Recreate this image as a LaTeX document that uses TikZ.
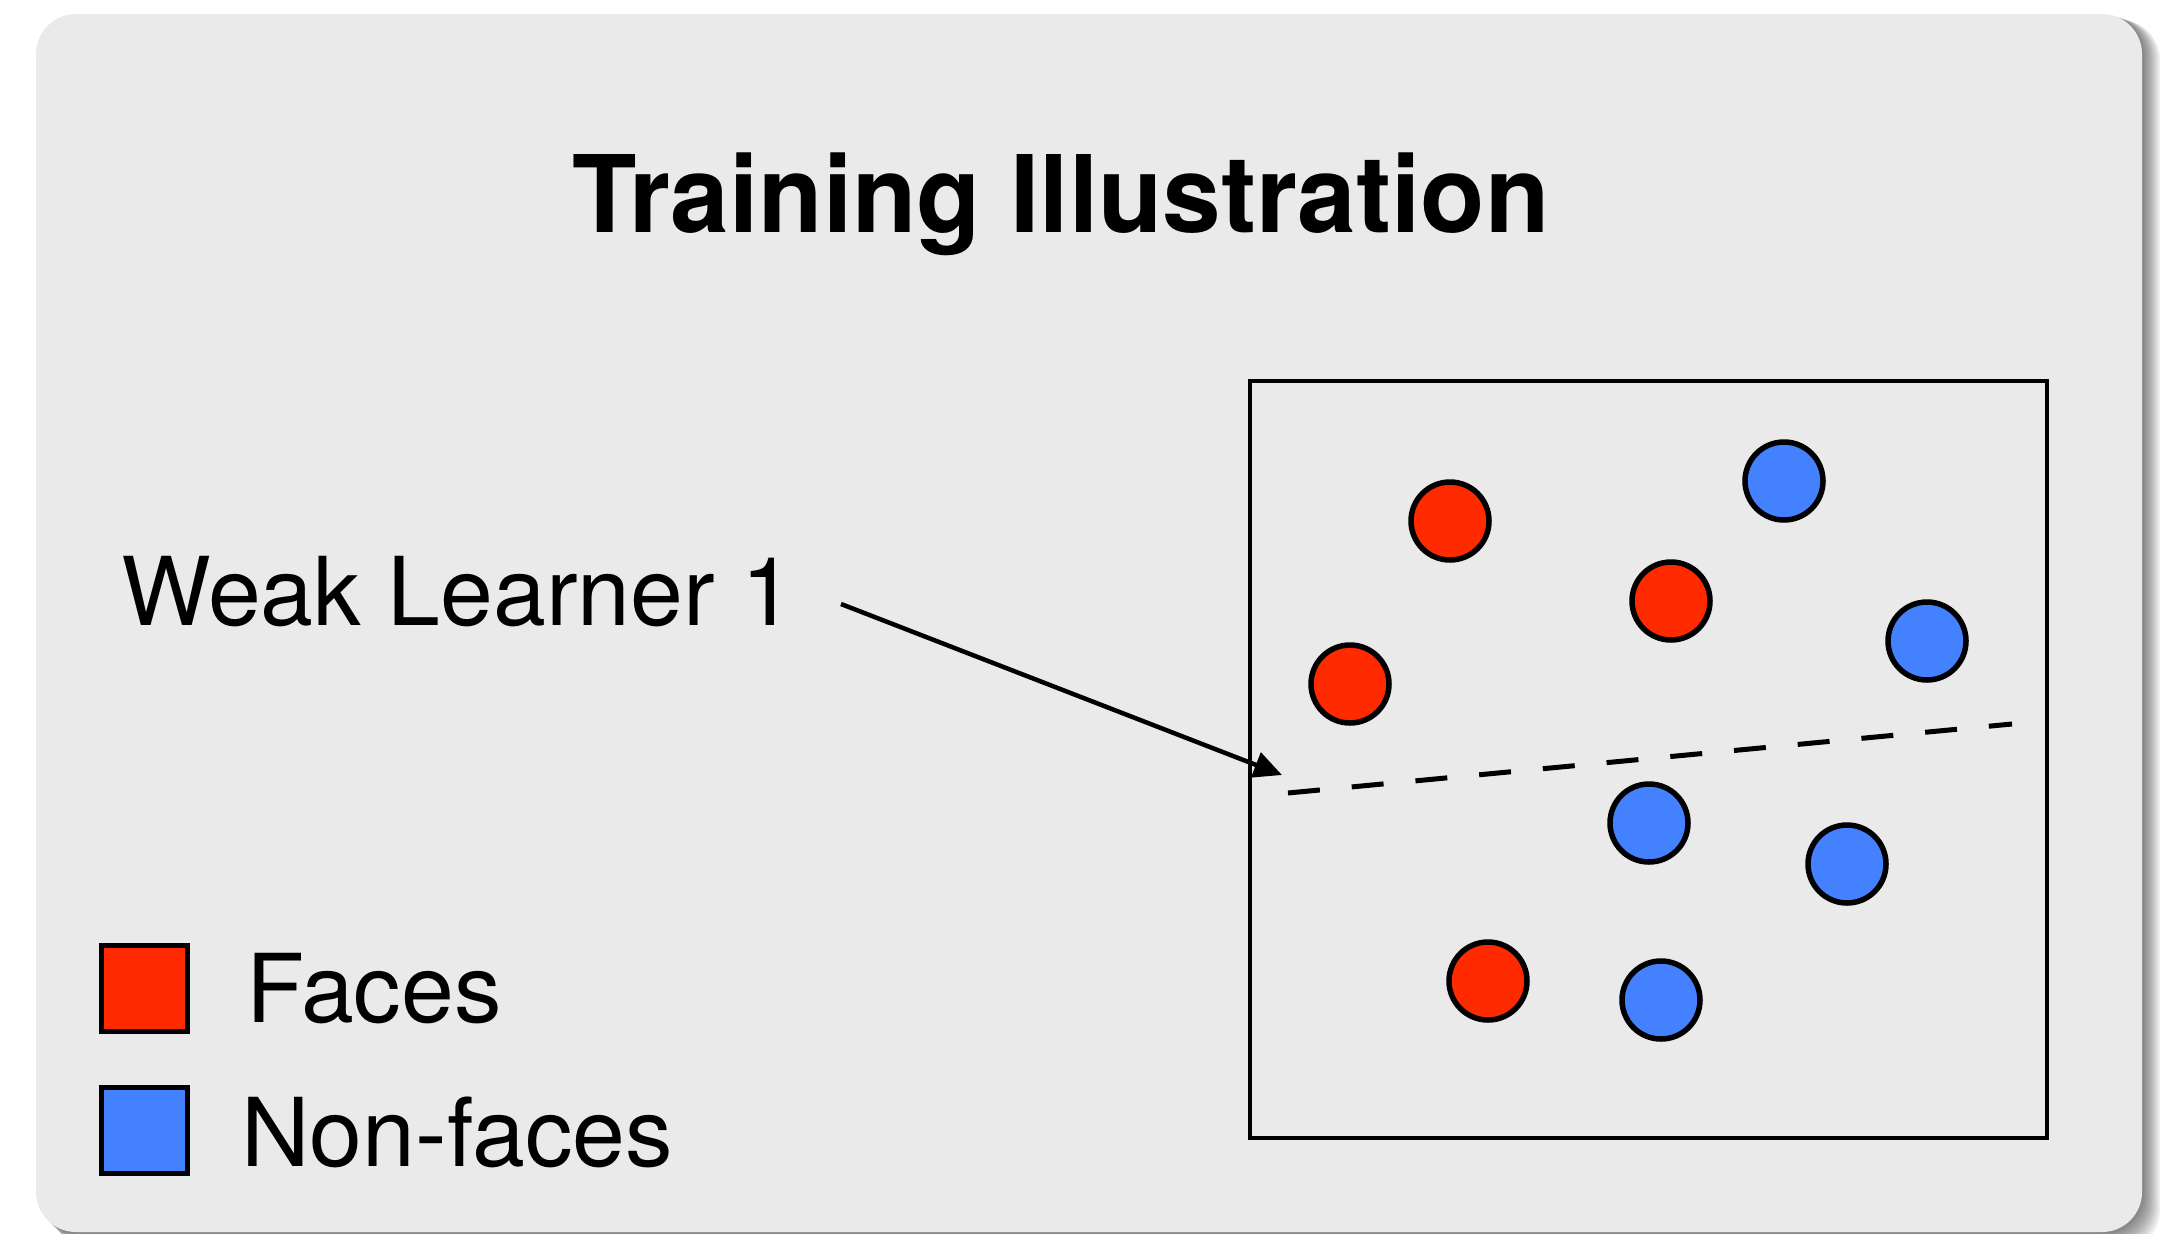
\documentclass[tikz,border=0pt]{standalone}
\usepackage{fontspec}
\setmainfont{TeX Gyre Heros}
\usetikzlibrary{arrows.meta}

\definecolor{panelgray}{HTML}{EAEAEA}
\definecolor{facered}{HTML}{FF2A00}
\definecolor{nonfaceblue}{HTML}{4381FF}

\tikzset{
  facedot/.style={circle, draw=black, line width=5.5pt, fill=facered,
                  minimum size=78pt, inner sep=0pt},
  nonfacedot/.style={circle, draw=black, line width=5.5pt, fill=nonfaceblue,
                     minimum size=78pt, inner sep=0pt},
  legendbox/.style={rectangle, draw=black, line width=5pt,
                    minimum size=86pt, inner sep=0pt},
  label text/.style={inner sep=0pt, font=\fontsize{95}{110}\selectfont},
  frame line/.style={draw=black, line width=4.5pt},
}

\begin{document}
\begin{tikzpicture}[x=1pt, y=-1pt]
  \useasboundingbox (0,0) rectangle (2163,1234);

  % soft shadow to the right of the panel
  \foreach \d in {2,4,...,18}
    \fill[black, opacity=0.065, rounded corners=40pt]
      (36+\d,14+\d/3) rectangle (2142+\d,1232+\d);
  % panel
  \fill[panelgray, rounded corners=40pt] (36,14) rectangle (2142,1232);

  % title
  \node[anchor=base, inner sep=0pt, xscale=0.985,
        font=\fontsize{107}{120}\selectfont\bfseries] (title)
    at (1061,232) {Training Illustration};

  % sample space
  \draw[frame line] (1250,381) rectangle (2047,1138);
  \node[facedot] (f1) at (1450,521) {};
  \node[facedot] (f2) at (1671,601) {};
  \node[facedot] (f3) at (1350,684) {};
  \node[facedot] (f4) at (1488,981) {};
  \node[nonfacedot] (n1) at (1784,481) {};
  \node[nonfacedot] (n2) at (1927,641) {};
  \node[nonfacedot] (n3) at (1649,823) {};
  \node[nonfacedot] (n4) at (1847,864) {};
  \node[nonfacedot] (n5) at (1661,1000) {};

  % decision boundary of the weak learner
  \coordinate (db1) at (1288,793);
  \coordinate (db2) at (2012,724);
  \draw[line width=5pt, dash pattern=on 32pt off 32pt] (db1) -- (db2);

  % label and pointer
  \node[label text, anchor=base west] (wl) at (121,625) {Weak Learner 1};
  \coordinate (wlstart) at (841,604);
  \coordinate (tip) at (1282,775);
  \draw[line width=4.5pt, -{Triangle[length=28pt, width=26pt]}] (wlstart) -- (tip);

  % legend
  \node[legendbox, fill=facered] (lf) at (144,988) {};
  \node[legendbox, fill=nonfaceblue] (ln) at (144,1130) {};
  \node[label text, anchor=base west] (lft) at (246,1022) {Faces};
  \node[label text, anchor=base west] (lnt) at (241,1166) {Non-faces};
\end{tikzpicture}
\end{document}
